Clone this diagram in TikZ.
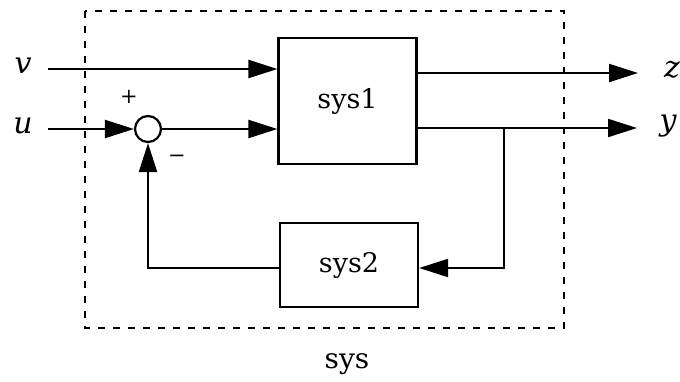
\documentclass[tikz,border=0pt]{standalone}
\usepackage{fontspec}
\setmainfont{DejaVu Serif}
\usetikzlibrary{arrows.meta}
\begin{document}
\begin{tikzpicture}[x=0.5pt,y=-0.5pt,
  wire/.style={line width=1.1pt},
  arr/.style={wire,-{Triangle[length=14.5pt,width=9pt]}},
  blockbox/.style={draw,line width=1.1pt,inner sep=0pt,font=\fontsize{13.5}{15}\selectfont},
  sig/.style={font=\fontsize{15}{17}\selectfont\itshape,inner sep=0pt},
  signlbl/.style={font=\fontsize{10.5}{12}\selectfont,inner sep=0pt}]
\useasboundingbox (0,0) rectangle (680,381);
% outer dashed box
\draw[line width=1.1pt,dash pattern=on 3.5pt off 4pt] (85,11) rectangle (564,328);
\node[font=\fontsize{14}{16}\selectfont] (syslbl) at (347,364) {sys};
% blocks
\node[blockbox,minimum width=69pt,minimum height=63pt] (sys1) at (347.5,101) {sys1};
\node[blockbox,minimum width=69pt,minimum height=42pt] (sys2) at (349,265) {sys2};
\node[draw,circle,line width=1.1pt,minimum size=13pt,inner sep=0pt] (sum) at (148,129) {};
% signal labels
\node[sig] (v) at (23,66) {v};
\node[sig] (u) at (23,126) {u};
\node[sig] (z) at (672,70) {z};
\node[sig] (y) at (668,126) {y};
\node[signlbl] (plus) at (129,97) {+};
\node[signlbl] (minus) at (177,159) {−};
% coordinates
\coordinate (vin) at (48,69);
\coordinate (uin) at (48,129);
\coordinate (zout) at (638,73);
\coordinate (yout) at (637,128);
\coordinate (branch) at (504,128);
\coordinate (fbr) at (504,268);
\coordinate (fbl) at (148,268);
% connectors
\draw[arr] (vin) -- (vin -| sys1.west);
\draw[arr] (uin) -- (sum.west);
\draw[arr] (sum.east) -- (sum.east -| sys1.west);
\draw[arr] (sys1.east |- zout) -- (zout);
\draw[arr] (sys1.east |- yout) -- (yout);
\draw[arr] (branch) -- (fbr) -- (fbr -| sys2.east);
\draw[arr] (fbl -| sys2.west) -- (fbl) -- (sum.south);
\end{tikzpicture}
\end{document}
